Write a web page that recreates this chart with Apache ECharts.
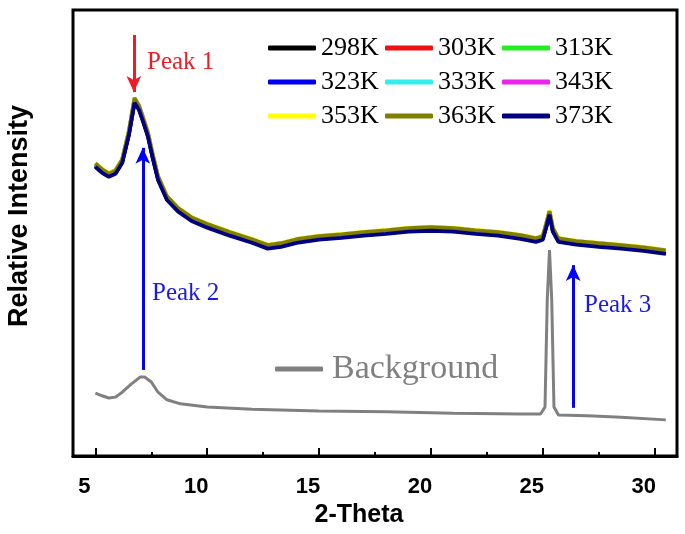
<!DOCTYPE html>
<html>
<head>
<meta charset="utf-8">
<script src="https://cdn.jsdelivr.net/npm/echarts@6/dist/echarts.min.js"></script>
<style>html,body{margin:0;padding:0;background:#fff}#c{width:685px;height:534px}</style>
</head>
<body>
<div id="c"></div>
<script>
// ---- data ----
const xValues = [5.0,5.3,5.6,5.9,6.2,6.5,6.75,6.95,7.15,7.35,7.55,7.8,8.2,8.7,9.3,10,11,12,12.7,13.3,14,15,16,17,18,19,20,21,22,23,24,24.7,25.0,25.15,25.3,25.45,25.7,26.5,27.5,28.5,29.5,30.5];
const s298 = [65.0,63.7,62.8,63.4,65.9,72.2,79.3,77.8,74.9,71.8,67.2,62.1,57.6,55.0,52.9,51.4,49.6,48.0,46.7,47.1,48.0,48.7,49.1,49.6,50.0,50.5,50.7,50.5,50.0,49.6,48.9,48.2,48.7,51.3,54.1,50.5,48.2,47.6,47.1,46.7,46.2,45.5];
const s303 = [65.4,64.1,63.2,63.9,66.3,72.6,79.8,78.2,75.3,72.3,67.7,62.5,58.0,55.5,53.3,51.8,50.1,48.4,47.1,47.5,48.4,49.1,49.6,50.0,50.5,50.9,51.2,50.9,50.4,50.1,49.3,48.6,49.1,51.8,54.7,50.9,48.6,48.0,47.5,47.2,46.6,45.9];
const s313 = [65.3,64.0,63.1,63.8,66.2,72.5,79.7,78.1,75.2,72.1,67.6,62.4,57.9,55.3,53.2,51.7,49.9,48.3,47.0,47.4,48.3,49.0,49.4,49.9,50.3,50.8,51.0,50.8,50.3,49.9,49.2,48.5,49.0,51.7,54.6,50.8,48.5,47.9,47.4,47.0,46.5,45.8];
const s323 = [65.1,63.8,62.9,63.6,66.0,72.3,79.5,77.9,75.0,71.9,67.4,62.2,57.7,55.1,53.0,51.5,49.7,48.1,46.8,47.2,48.1,48.8,49.2,49.7,50.1,50.6,50.8,50.6,50.1,49.7,49.0,48.3,48.8,51.5,54.4,50.6,48.3,47.7,47.2,46.8,46.3,45.6];
const s333 = [65.5,64.2,63.3,64.0,66.4,72.7,79.9,78.3,75.4,72.3,67.8,62.6,58.1,55.5,53.4,51.9,50.1,48.5,47.2,47.6,48.5,49.2,49.6,50.1,50.5,51.0,51.2,51.0,50.5,50.1,49.4,48.7,49.2,51.9,54.8,51.0,48.7,48.1,47.6,47.2,46.7,46.0];
const s343 = [65.6,64.3,63.4,64.1,66.5,72.8,80.0,78.6,75.7,72.6,67.9,62.7,58.2,55.6,53.5,52.0,50.2,48.6,47.3,47.7,48.6,49.3,49.7,50.2,50.6,51.1,51.3,51.1,50.6,50.2,49.5,48.8,49.3,52.0,54.9,51.1,48.8,48.2,47.7,47.3,46.8,46.1];
const s353 = [65.7,64.4,63.5,64.2,66.6,72.9,80.1,78.5,75.6,72.5,68.0,62.8,58.3,55.7,53.6,52.1,50.3,48.7,47.4,47.8,48.7,49.4,49.8,50.3,50.7,51.2,51.4,51.2,50.7,50.3,49.6,48.9,49.4,52.1,55.1,51.2,48.9,48.3,47.8,47.4,46.9,46.2];
const s363 = [65.6,64.3,63.3,64.0,66.5,72.9,80.3,78.5,75.5,72.4,67.9,62.7,58.2,55.6,53.5,52.0,50.2,48.6,47.3,47.7,48.6,49.3,49.7,50.2,50.6,51.1,51.3,51.1,50.6,50.2,49.5,48.8,49.3,52.0,54.9,51.1,48.8,48.2,47.7,47.3,46.8,46.1];
const s373 = [64.8,63.5,62.6,63.3,65.7,72.0,79.2,77.6,74.7,71.6,67.1,61.9,57.4,54.8,52.7,51.2,49.4,47.8,46.5,46.9,47.8,48.5,48.9,49.4,49.8,50.3,50.5,50.3,49.8,49.4,48.7,48.0,48.5,51.2,54.1,50.3,48.0,47.4,46.9,46.5,46.0,45.3];
const seriesNames = ['298K','303K','313K','323K','333K','343K','353K','363K','373K'];
const seriesValues = [s298,s303,s313,s323,s333,s343,s353,s363,s373];
const seriesColors = ['#000000','#ee1111','#22ee22','#0000ee','#33eeee','#ee22ee','#ffff00','#808000','#000080'];

const bgX = [5.0,5.3,5.6,5.9,6.2,6.6,7.0,7.2,7.5,7.8,8.2,8.8,10,12,15,18,21,24,24.9,25.1,25.2,25.3,25.4,25.5,25.7,27,28.5,30.5];
const bgY = [14.1,13.5,13.0,13.2,14.3,16.1,17.7,17.7,16.6,14.3,12.6,11.7,11.0,10.5,10.1,9.9,9.6,9.4,9.4,11.0,35.0,46.2,35.0,11.0,9.2,9.0,8.7,8.1];

const xTickValues = [5,10,15,20,25,30];
const xMinorTickValues = [7.5,12.5,17.5,22.5,27.5];

// annotation arrows: [x, yStart, yEnd]
const arrowPeak1 = [6.72, 94.4, 81.6];
const arrowPeak2 = [7.12, 19.3, 69.1];
const arrowPeak3 = [26.36, 10.8, 42.8];

// ---- chart ----
const zip = (xs, ys) => xs.map((x, i) => [x, ys[i]]);
const chart = echarts.init(document.getElementById('c'), null, {renderer: 'canvas'});
const sansBold = "'Liberation Sans', Arial, sans-serif";
const serif = "'Liberation Serif', 'Times New Roman', serif";

function arrow(a, color) {
  return [
    {coord: [a[0], a[1]], lineStyle: {color: color, width: 3, type: 'solid'}, itemStyle: {color: color}},
    {coord: [a[0], a[2]], lineStyle: {color: color, width: 3, type: 'solid'}, itemStyle: {color: color}}
  ];
}

const series = [{
  name: 'Background',
  type: 'line',
  data: zip(bgX, bgY),
  symbol: 'none',
  color: '#808080',
  lineStyle: {width: 3, color: '#808080'},
  z: 2,
  markLine: {
    silent: true,
    symbol: ['none', 'arrow'],
    symbolSize: [11, 16],
    label: {show: false},
    animation: false,
    data: [arrow(arrowPeak1, '#ee1c25'), arrow(arrowPeak2, '#0000ff'), arrow(arrowPeak3, '#0000ff')]
  }
}];
seriesNames.forEach((n, i) => {
  series.push({
    name: n,
    type: 'line',
    data: zip(xValues, seriesValues[i]),
    symbol: 'none',
    color: seriesColors[i],
    lineStyle: {width: 3.8, color: seriesColors[i]},
    z: 3
  });
});

const legendCommon = {
  orient: 'vertical',
  padding: 0,
  itemWidth: 48,
  itemHeight: 5,
  itemGap: 6,
  icon: 'roundRect',
  selectedMode: false,
  textStyle: {fontFamily: serif, fontSize: 26, color: '#000', lineHeight: 28}
};

chart.setOption({
  animation: false,
  backgroundColor: '#fff',
  grid: {left: 73, right: 8, top: 10, bottom: 78, show: true, borderColor: '#000', borderWidth: 3, containLabel: false},
  xAxis: [{
    type: 'value', min: 4, max: 31,
    axisLine: {show: true, onZero: false, lineStyle: {color: '#000', width: 3}},
    axisTick: {show: true, inside: true, length: 8, customValues: xTickValues, lineStyle: {color: '#000', width: 2}},
    axisLabel: {customValues: xTickValues, margin: 20, fontSize: 22, fontWeight: 'bold', color: '#000', fontFamily: sansBold, padding: [0, 22, 0, 0]},
    splitLine: {show: false},
    name: '2-Theta', nameLocation: 'middle', nameGap: 46,
    nameTextStyle: {fontSize: 25, fontWeight: 'bold', color: '#000', fontFamily: sansBold, padding: [0, 32, 0, 0]}
  }, {
    type: 'value', min: 4, max: 31, position: 'bottom',
    axisLine: {show: false},
    axisTick: {show: true, inside: true, length: 4, customValues: xMinorTickValues, lineStyle: {color: '#000', width: 2}},
    axisLabel: {show: false},
    splitLine: {show: false}
  }],
  yAxis: {
    type: 'value', min: 0, max: 100,
    axisLine: {show: false}, axisTick: {show: false}, axisLabel: {show: false}, splitLine: {show: false}
  },
  legend: [
    Object.assign({}, legendCommon, {data: ['298K','323K','353K'], left: 268, top: 34}),
    Object.assign({}, legendCommon, {data: ['303K','333K','363K'], left: 385, top: 34}),
    Object.assign({}, legendCommon, {data: ['313K','343K','373K'], left: 502, top: 34}),
    {data: ['Background'], left: 275, top: 352, padding: 0, itemWidth: 48, itemHeight: 5, icon: 'roundRect', selectedMode: false,
     textStyle: {fontFamily: serif, fontSize: 34, color: '#808080', padding: [0, 0, 0, 4]}}
  ],
  graphic: [
    {type: 'text', x: 20, y: 216, rotation: Math.PI / 2,
     style: {text: 'Relative Intensity', font: "bold 27px 'Liberation Sans', Arial, sans-serif", fill: '#000', align: 'center', verticalAlign: 'middle'}},
    {type: 'text', x: 147, y: 62, style: {text: 'Peak 1', font: "25px 'Liberation Serif', serif", fill: '#ee1c25', align: 'left', verticalAlign: 'middle'}},
    {type: 'text', x: 152, y: 293, style: {text: 'Peak 2', font: "25px 'Liberation Serif', serif", fill: '#1a1ae6', align: 'left', verticalAlign: 'middle'}},
    {type: 'text', x: 584, y: 305, style: {text: 'Peak 3', font: "25px 'Liberation Serif', serif", fill: '#1a1ae6', align: 'left', verticalAlign: 'middle'}}
  ],
  series: series
});
</script>
</body>
</html>
